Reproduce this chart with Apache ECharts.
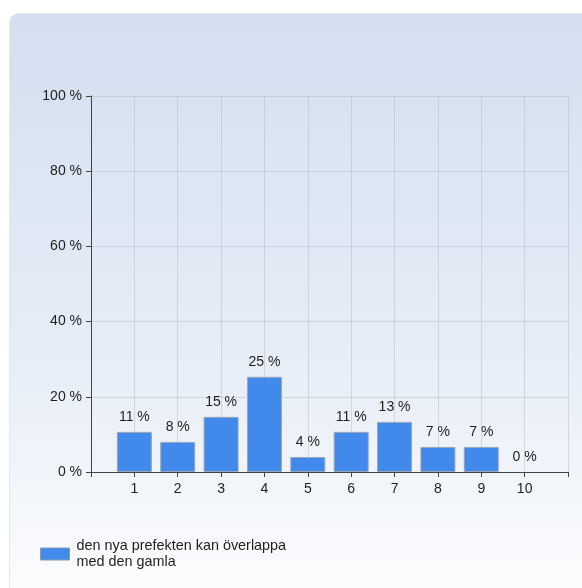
<!DOCTYPE html>
<html>
<head>
<meta charset="utf-8">
<script src="https://cdn.jsdelivr.net/npm/echarts@6/dist/echarts.min.js"></script>
<style>
  html, body { margin: 0; padding: 0; background: #ffffff; }
  #chart { width: 582px; height: 588px; }
</style>
</head>
<body>
<div id="chart"></div>
<script>
// Answer options 1–10 and the share of respondents (%) for each
const categories = [1, 2, 3, 4, 5, 6, 7, 8, 9, 10];
const shares = [10.67, 8.0, 14.67, 25.33, 4.0, 10.67, 13.33, 6.67, 6.67, 0];
const yTicks = [0, 20, 40, 60, 80, 100];
const seriesName = 'den nya prefekten kan överlappa\nmed den gamla';

const FONT = '"Liberation Sans", Arial, sans-serif';
const TEXT = '#1e1e1e';

const chart = echarts.init(document.getElementById('chart'), null, { renderer: 'canvas' });

chart.setOption({
  animation: false,
  textStyle: { fontFamily: FONT },
  graphic: [{
    type: 'rect',
    z: -10,
    silent: true,
    shape: { x: 9.5, y: 13.5, width: 620, height: 620, r: 9 },
    style: {
      fill: new echarts.graphic.LinearGradient(0, 0, 0, 1, [
        { offset: 0, color: '#d3dff0' },
        { offset: 0.55, color: '#e6edf7' },
        { offset: 0.9, color: '#fafbfd' },
        { offset: 1, color: '#fcfdfe' }
      ]),
      stroke: '#e4e8ee',
      lineWidth: 1
    }
  }],
  grid: { left: 91, top: 96, right: 14, bottom: 116, containLabel: false },
  xAxis: {
    type: 'value',
    min: 0,
    max: categories.length + 1,
    interval: 1,
    axisLine: { show: true, onZero: false, lineStyle: { color: '#444', width: 1 } },
    axisTick: { show: true, length: 5, lineStyle: { color: '#444' } },
    axisLabel: {
      color: TEXT, fontSize: 14, fontFamily: FONT, margin: 10,
      formatter: v => (categories.indexOf(v) >= 0 ? String(v) : '')
    },
    splitLine: { show: true, lineStyle: { color: 'rgba(175,178,184,0.42)', width: 1 } }
  },
  yAxis: {
    type: 'value',
    min: yTicks[0],
    max: yTicks[yTicks.length - 1],
    interval: 20,
    axisLine: { show: true, lineStyle: { color: '#444', width: 1 } },
    axisTick: { show: true, length: 5, lineStyle: { color: '#444' } },
    axisLabel: { color: TEXT, fontSize: 14, fontFamily: FONT, margin: 9, formatter: v => v + ' %' },
    splitLine: { show: true, lineStyle: { color: 'rgba(175,178,184,0.42)', width: 1 } }
  },
  legend: {
    left: 40,
    top: 538,
    padding: 0,
    itemWidth: 29,
    itemHeight: 12,
    itemGap: 7,
    icon: 'rect',
    textStyle: { color: TEXT, fontSize: 14.4, fontFamily: FONT, lineHeight: 16, padding: [0, 0, 0, 2] },
    data: [{ name: seriesName, itemStyle: { borderColor: '#8a9ab0', borderWidth: 1 } }]
  },
  series: [{
    name: seriesName,
    type: 'bar',
    barWidth: 35,
    data: categories.map((c, i) => ({
      value: [c, shares[i]],
      itemStyle: shares[i] === 0 ? { borderWidth: 0 } : undefined
    })),
    itemStyle: { color: '#4189ea', borderColor: '#9aa7b8', borderWidth: 1 },
    label: {
      show: true,
      position: 'top',
      distance: 8,
      color: TEXT,
      fontSize: 14,
      fontFamily: FONT,
      formatter: p => Math.round(p.value[1]) + ' %'
    }
  }]
});
</script>
</body>
</html>
